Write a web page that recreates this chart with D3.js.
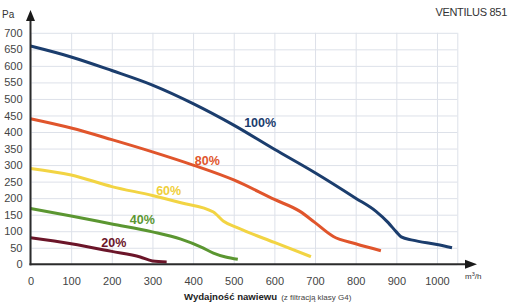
<!DOCTYPE html>
<html>
<head>
<meta charset="utf-8">
<script src="https://cdn.jsdelivr.net/npm/d3@7"></script>
<style>
  body { margin: 0; background: #fff; }
  svg { display: block; font-family: "Liberation Sans", Arial, sans-serif; }
</style>
</head>
<body>
<div id="chart"></div>
<script>
// fan curves of VENTILUS 851, flow in m3/h, pressure in Pa
const flow100 = [0, 100, 200, 300, 400, 500, 600, 700, 800, 850, 880, 900, 912, 940, 1000, 1037];
const pa100   = [660, 627, 586, 542, 486, 421, 348, 277, 200, 160, 126, 98, 83, 73, 60, 50];
const flow80 = [0, 100, 200, 300, 400, 500, 600, 663, 700, 745, 800, 862];
const pa80   = [440, 412, 377, 340, 300, 255, 196, 160, 126, 84, 62, 41];
const flow60 = [0, 100, 200, 300, 370, 450, 475, 510, 600, 690];
const pa60   = [290, 270, 235, 208, 186, 158, 130, 110, 66, 23];
const flow40 = [0, 100, 200, 300, 370, 420, 450, 480, 510];
const pa40   = [169, 146, 122, 98, 76, 52, 34, 22, 15];
const flow20 = [0, 100, 200, 270, 300, 335];
const pa20   = [80, 62, 39, 22, 10, 7];

const seriesNames = ["100%", "80%", "60%", "40%", "20%"];
const xTicks = [0, 100, 200, 300, 400, 500, 600, 700, 800, 900, 1000];
const yTicks = [0, 50, 100, 150, 200, 250, 300, 350, 400, 450, 500, 550, 600, 650, 700];

const width = 512, height = 305;
const colors = ["#1b3d6d", "#e0552c", "#f2d443", "#5b9631", "#6b1529"];
const labelColors = ["#1b3d6d", "#e0552c", "#f0cf3a", "#5b9631", "#6b1529"];
// label anchor points [flow, pressure]
const labelPos = [[565, 416], [435, 300], [340, 210], [275, 122], [205, 52]];

const series = [
    {name: seriesNames[0], xs: flow100, ys: pa100},
    {name: seriesNames[1], xs: flow80, ys: pa80},
    {name: seriesNames[2], xs: flow60, ys: pa60},
    {name: seriesNames[3], xs: flow40, ys: pa40},
    {name: seriesNames[4], xs: flow20, ys: pa20}
];

const x = d3.scaleLinear().domain([0, 1050]).range([30.5, 457.3]);
const y = d3.scaleLinear().domain([0, 700]).range([264.3, 32.8]);

const svg = d3.select("#chart").append("svg")
    .attr("width", width)
    .attr("height", height);

// grid
svg.append("g")
    .attr("transform", "translate(0," + y(0) + ")")
    .call(d3.axisBottom(x).tickValues(xTicks.concat([1050])).tickSize(-(y(0) - y(700))).tickFormat(""))
    .call(g => g.select(".domain").remove())
    .call(g => g.selectAll("line").attr("stroke", "#dde1e9").attr("stroke-width", 1));

svg.append("g")
    .attr("transform", "translate(" + x(0) + ",0)")
    .call(d3.axisLeft(y).tickValues(yTicks).tickSize(-(x(1050) - x(0))).tickFormat(""))
    .call(g => g.select(".domain").remove())
    .call(g => g.selectAll("line").attr("stroke", "#dde1e9").attr("stroke-width", 1));

// tick labels
svg.append("g")
    .attr("transform", "translate(0," + y(0) + ")")
    .call(d3.axisBottom(x).tickValues(xTicks).tickSize(0).tickPadding(13).tickFormat(d3.format("d")))
    .call(g => g.select(".domain").remove())
    .call(g => g.selectAll("text").attr("font-size", 11).attr("fill", "#444")
        .attr("font-family", "'Liberation Sans', Arial, sans-serif"));

svg.append("g")
    .attr("transform", "translate(" + x(0) + ",0)")
    .call(d3.axisLeft(y).tickValues(yTicks).tickSize(0).tickPadding(8).tickFormat(d3.format("d")))
    .call(g => g.select(".domain").remove())
    .call(g => g.selectAll("text").attr("font-size", 11).attr("fill", "#444")
        .attr("font-family", "'Liberation Sans', Arial, sans-serif"));

// curves
const line = d3.line()
    .x(d => x(d[0]))
    .y(d => y(d[1]))
    .curve(d3.curveMonotoneX);

svg.append("g").selectAll("path")
    .data(series)
    .enter()
    .append("path")
    .attr("d", d => line(d.xs.map((v, i) => [v, d.ys[i]])))
    .attr("fill", "none")
    .attr("stroke", (d, i) => colors[i])
    .attr("stroke-width", 3)
    .attr("stroke-linecap", "butt");

svg.append("g").selectAll("text")
    .data(series)
    .enter()
    .append("text")
    .attr("x", (d, i) => x(labelPos[i][0]))
    .attr("y", (d, i) => y(labelPos[i][1]))
    .attr("text-anchor", "middle")
    .attr("font-size", 12.5)
    .attr("font-weight", "bold")
    .attr("fill", (d, i) => labelColors[i])
    .text(d => d.name);

// axes with arrows
svg.append("line")
    .attr("x1", x(0)).attr("x2", x(0))
    .attr("y1", y(0) + 1).attr("y2", 18)
    .attr("stroke", "#2b2b2b").attr("stroke-width", 2);
svg.append("path")
    .attr("d", "M" + x(0) + ",10 L" + (x(0) - 4.5) + ",21 L" + (x(0) + 4.5) + ",21 Z")
    .attr("fill", "#1a1a1a");

svg.append("line")
    .attr("x1", x(0) - 1).attr("x2", 468)
    .attr("y1", y(0)).attr("y2", y(0))
    .attr("stroke", "#2b2b2b").attr("stroke-width", 2);
svg.append("path")
    .attr("d", "M477," + y(0) + " L465," + (y(0) - 4.5) + " L465," + (y(0) + 4.5) + " Z")
    .attr("fill", "#1a1a1a");

// texts
svg.append("text")
    .attr("x", 2).attr("y", 18)
    .attr("font-size", 10).attr("fill", "#333")
    .text("Pa");

svg.append("text")
    .attr("x", 465).attr("y", 279)
    .attr("font-size", 8).attr("fill", "#333")
    .html("m<tspan font-size='5.5' dy='-3'>3</tspan><tspan dy='3'>/h</tspan>");

svg.append("text")
    .attr("x", 507).attr("y", 16)
    .attr("text-anchor", "end")
    .attr("font-size", 11)
    .attr("letter-spacing", -0.3)
    .attr("fill", "#333")
    .text("VENTILUS 851");

const title = svg.append("text")
    .attr("x", 184).attr("y", 300)
    .attr("fill", "#222");
title.append("tspan")
    .attr("font-size", 9.6).attr("font-weight", "bold")
    .text("Wydajność nawiewu");
title.append("tspan")
    .attr("font-size", 8).attr("fill", "#444").attr("dx", 4)
    .text("(z filtracją klasy G4)");
</script>
</body>
</html>
